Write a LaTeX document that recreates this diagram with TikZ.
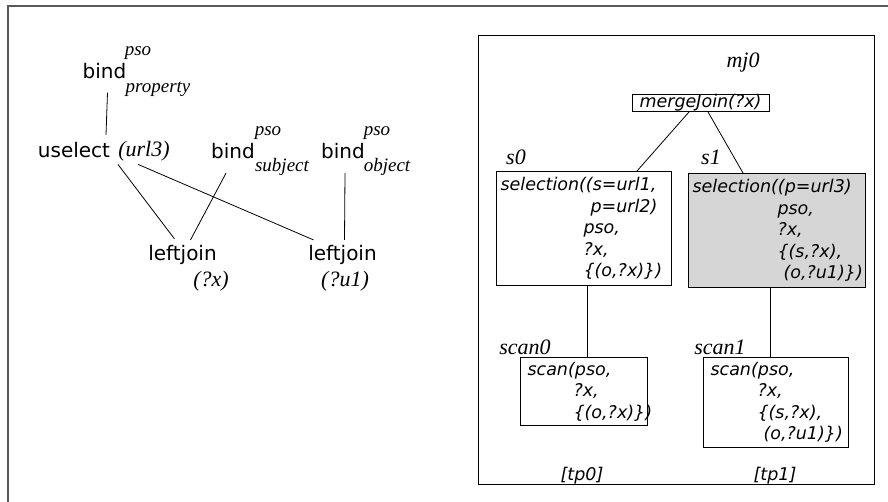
\documentclass[tikz,border=0pt]{standalone}
\usepackage{fontspec}
\setmainfont{Liberation Serif}
\newfontfamily\opfont{DejaVu Sans}

\begin{document}
\begin{tikzpicture}
[
    x=1pt, y=-1pt, line width=0.8pt,
    op/.style={font=\opfont\fontsize{20}{24}\selectfont, inner sep=0pt},
    lbl/.style={font=\itshape\fontsize{22}{26}\selectfont, inner sep=0pt},
    idx/.style={font=\itshape\fontsize{19}{22}\selectfont, inner sep=0pt},
    plan/.style={draw, line width=1pt, anchor=north west, align=left,
        inner xsep=4pt, inner ysep=0pt,
        font=\opfont\itshape\fontsize{17.5}{21.5}\selectfont},
    tp/.style={font=\opfont\itshape\fontsize{17.5}{21.5}\selectfont, inner sep=0pt},
]
\useasboundingbox (0,0) rectangle (888,502);
\draw [black!65, line width=1.5pt] (8,502) -- (8,6) -- (888,6);

% algebra tree
\node [op] (bindP) at (104.5,71.5) {bind};
\node [idx] (psoP) at (138,53) {pso};
\node [idx] (propP) at (158,89) {property};
\node [op] (usel) at (74,150) {uselect};
\node [lbl] (url3) at (144,151) {(url3)};
\node [op] (bindS) at (233,151) {bind};
\node [idx] (psoS) at (268,133) {pso};
\node [idx] (subS) at (282,167) {subject};
\node [op] (bindO) at (343,151) {bind};
\node [idx] (psoO) at (377,133) {pso};
\node [idx] (objO) at (387,167) {object};
\node [op] (lj1) at (182.5,255) {leftjoin};
\node [lbl] (vx) at (211,281) {(?x)};
\node [op] (lj2) at (342.5,255) {leftjoin};
\node [lbl] (vu1) at (345,281) {(?u1)};

\draw ([shift={(3,13)}]bindP.south) -- ([shift={(32,-7)}]usel.north);
\draw ([shift={(0,3)}]url3.south west) -- ([shift={(-8,-6)}]lj1.north);
\draw ([shift={(-6,3)}]url3.south) -- ([shift={(-29,-5)}]lj2.north);
\draw ([shift={(-7,14)}]bindS.south) -- ([shift={(8,-5)}]lj1.north);
\draw ([shift={(2,14)}]bindO.south) -- ([shift={(2,-5)}]lj2.north);

% physical plan
\draw [line width=1pt] (478,36) rectangle (874,484);

\node [lbl] (mjName) at (743,63) {mj0};
\node [plan, anchor=center, minimum width=137pt, minimum height=16pt, inner xsep=0pt] (mj) at (700.5,103) {mergeJoin(?x)};

\node [lbl] (s0Name) at (516,157) {s0};
\node [plan, text width=167pt, minimum height=114pt] (s0) at (496,171)
    {selection((s=url1,\\
     \hspace*{90pt}p=url2)\\
     \hspace*{83pt}pso,\\
     \hspace*{83pt}?x,\\
     \hspace*{83pt}\{(o,?x)\})};
\node [lbl] (s1Name) at (711,157) {s1};
\node [plan, fill=black!16, text width=169pt, minimum height=114pt] (s1) at (688,173)
    {selection((p=url3)\\
     \hspace*{85pt}pso,\\
     \hspace*{85pt}?x,\\
     \hspace*{85pt}\{(s,?x),\\
     \hspace*{91pt}(o,?u1)\})};

\node [lbl] (sc0Name) at (525,347) {scan0};
\node [plan, text width=119pt, minimum height=68pt, inner xsep=4pt] (sc0) at (520,357)
    {\hspace*{3pt}scan(pso,\\
     \hspace*{49pt}?x,\\
     \hspace*{49pt}\{(o,?x)\})};
\node [lbl] (sc1Name) at (720,347) {scan1};
\node [plan, text width=137pt, minimum height=90pt] (sc1) at (703,357)
    {\hspace*{3pt}scan(pso,\\
     \hspace*{50pt}?x,\\
     \hspace*{50pt}\{(s,?x),\\
     \hspace*{56pt}(o,?u1)\})};

\node [tp] (tp0) at (582,476) {[tp0]};
\node [tp] (tp1) at (775,476) {[tp1]};

\draw ([xshift=-11.5pt]mj.south) -- ([xshift=-35pt]s0.north east);
\draw ([xshift=7.5pt]mj.south) -- ([xshift=55pt]s1.north west);
\draw ([xshift=3pt]s0.south) -- ([xshift=3pt]sc0.north);
\draw ([xshift=-7pt]s1.south) -- ([xshift=-6pt]sc1.north);
\end{tikzpicture}
\end{document}
